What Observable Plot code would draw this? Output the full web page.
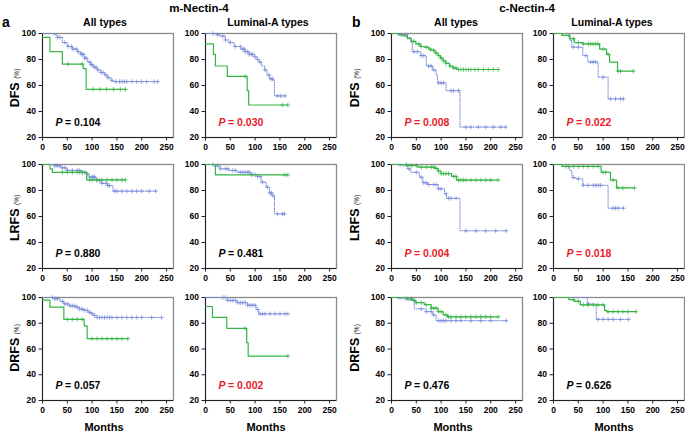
<!DOCTYPE html>
<html><head><meta charset="utf-8">
<script src="https://cdn.jsdelivr.net/npm/d3@7"></script>
<script src="https://cdn.jsdelivr.net/npm/@observablehq/plot@0.6"></script>
<style>
body{margin:0;background:#fff;}
#root{position:relative;width:685px;height:433px;font-family:"Liberation Sans",Arial,sans-serif;overflow:hidden;background:#fff;}
.t{position:absolute;font-weight:bold;white-space:nowrap;color:#000;line-height:1;}
#root svg{position:absolute;overflow:visible;}
</style></head><body><div id="root"></div>
<script>
// ---------- text ----------
const groupTitles = ["m-Nectin-4", "c-Nectin-4"];
const panelLetters = ["a", "b"];
const subtypeTitles = ["All types", "Luminal-A types"];
const endpointLabels = ["DFS", "LRFS", "DRFS"];
const xLabel = "Months";
const xTicks = [0, 50, 100, 150, 200, 250];
const yTicks = [20, 40, 60, 80, 100];
// P values, row by row (DFS, LRFS, DRFS), columns: m-All, m-LumA, c-All, c-LumA
const pValues = ["0.104", "0.030", "0.008", "0.022",
                 "0.880", "0.481", "0.004", "0.018",
                 "0.057", "0.002", "0.476", "0.626"];

// ---------- survival steps [month, %] (last point = end of follow-up) ----------
// m-Nectin-4, All types, DFS
const mAllDFS_green = [[0,97],[15,86],[40,76.5],[82,73],[88,57],[167,57]];
const mAllDFS_greenCens = [52,80,102,116,129,143,157,167];
const mAllDFS_blue = [[0,100],[23,99],[30,97],[40,93],[50,90],[60,88],[70,86],[77,84],[85,81],[91,78],[97,76],[102,74],[110,72],[118,70],[125,68],[132,66],[138,64],[142,63],[232,63]];
const mAllDFS_blueCens = [30,35,45,52,58,62,68,72,78,80,82,85,88,95,98,100,105,108,112,118,122,128,132,140,148,155,160,165,170,180,190,200,210,225,232];
// m-Nectin-4, Luminal-A, DFS
const mLumDFS_green = [[0,92],[16,84],[20,75],[44,67],[84,56],[87,45],[166,45]];
const mLumDFS_greenCens = [80,155,166];
const mLumDFS_blue = [[0,100],[20,99],[30,98],[40,95],[47,93],[58,90],[71,88],[80,86],[88,84],[98,82],[104,80],[108,78],[113,75],[119,72],[124,68],[129,65],[136,64],[139,52],[163,52]];
const mLumDFS_blueCens = [15,25,35,40,50,60,70,75,78,80,85,88,92,95,100,105,110,120,128,132,135,145,152,160];
// c-Nectin-4, All types, DFS
const cAllDFS_green = [[0,100],[15,99],[25,98],[32,96],[40,94],[49,92],[58,90],[66,89.5],[75,88],[80,87],[88,85],[94,83],[99,81],[104,79],[110,77],[117,75],[124,73.5],[131,72.3],[215,72.3]];
const cAllDFS_greenCens = [45,55,60,70,78,85,90,95,100,105,110,118,125,130,135,140,145,150,155,160,168,175,185,195,205,215];
const cAllDFS_blue = [[0,100],[12,99],[32,97],[39,93],[42,86],[59,83],[70,75],[83,72],[90,68],[93,62],[110,56],[138,28],[230,28]];
const cAllDFS_blueCens = [20,30,45,52,60,65,75,80,85,95,100,105,120,125,135,150,160,175,190,205,220,230];
// c-Nectin-4, Luminal-A, DFS
const cLumDFS_green = [[0,100],[17,98.5],[33,96],[42,93],[59,92],[93,88],[107,84],[113,78],[129,71],[161,71]];
const cLumDFS_greenCens = [30,40,50,60,70,75,80,85,90,100,110,130,135,161];
const cLumDFS_blue = [[0,100],[17,98.5],[33,94.6],[37,89.5],[59,83],[69,78],[90,66.4],[110,49.7],[141,49.7]];
const cLumDFS_blueCens = [40,50,65,75,80,85,100,115,125,135,141];
// m-Nectin-4, All types, LRFS
const mAllLRFS_green = [[0,100],[15,96.7],[20,94],[89,88.2],[167,88.2]];
const mAllLRFS_greenCens = [40,50,60,70,75,80,95,100,110,120,130,140,150,160,167];
const mAllLRFS_blue = [[0,100],[23,99],[37,97.4],[50,95.5],[77,94],[88,92.8],[94,90.3],[108,87.7],[118,85.6],[131,83.8],[142,79.5],[230,79.5]];
const mAllLRFS_blueCens = [25,30,35,40,45,50,60,70,75,80,85,90,95,100,102,105,110,115,120,128,132,135,145,150,160,170,180,190,200,215,228];
// m-Nectin-4, Luminal-A, LRFS
const mLumLRFS_green = [[0,100],[20,92],[166,92]];
const mLumLRFS_greenCens = [160,166];
const mLumLRFS_blue = [[0,100],[16,99],[30,96.7],[47,95.4],[64,94],[91,92.3],[105,90.8],[112,86.4],[122,82.5],[129,78],[136,76],[139,62],[159,62]];
const mLumLRFS_blueCens = [15,25,30,40,45,55,60,70,75,80,85,88,92,95,100,105,110,115,125,130,133,136,145,155,159];
// c-Nectin-4, All types, LRFS
const cAllLRFS_green = [[0,100],[32,99.2],[53,98],[87,97],[94,95],[100,93],[121,90.8],[131,88],[215,88]];
const cAllLRFS_greenCens = [30,40,50,60,70,80,85,90,95,100,105,110,115,125,130,135,140,145,150,160,170,180,190,200,215];
const cAllLRFS_blue = [[0,100],[15,99],[32,96.7],[39,94],[56,90.3],[63,86],[73,84.6],[94,81.3],[107,77.4],[111,74],[138,49],[231,49]];
const cAllLRFS_blueCens = [35,50,60,65,70,75,85,90,95,100,110,115,120,130,150,170,190,210,231];
// c-Nectin-4, Luminal-A, LRFS
const cLumLRFS_green = [[0,100],[17,98.5],[96,94],[115,88],[127,82],[163,82]];
const cLumLRFS_greenCens = [25,30,40,50,60,70,80,90,100,105,120,130,140,163];
const cLumLRFS_blue = [[0,100],[17,98.5],[33,95],[37,90],[45,89],[59,84],[110,66.4],[141,66.4]];
const cLumLRFS_blueCens = [40,50,60,70,80,85,90,95,120,125,130,141];
// m-Nectin-4, All types, DRFS
const mAllDRFS_green = [[0,98],[15,92.5],[43,83],[84,78],[90,68],[172,68]];
const mAllDRFS_greenCens = [50,60,70,80,100,110,120,130,140,150,160,172];
const mAllDRFS_blue = [[0,100],[23,99],[35,97],[43,95],[55,93.5],[66,92.5],[75,91],[83,90],[92,88.5],[100,87.3],[105,86],[110,84.5],[240,84.5]];
const mAllDRFS_blueCens = [20,25,30,40,45,50,55,60,65,70,75,80,85,90,95,100,105,110,115,120,125,130,135,140,150,160,170,180,190,200,220,240];
// m-Nectin-4, Luminal-A, DRFS
const mLumDRFS_green = [[0,93],[14,84.5],[43,76],[83,65],[86,54.4],[166,54.4]];
const mLumDRFS_greenCens = [80,166];
const mLumDRFS_blue = [[0,100],[30,100],[44,97.7],[64,96],[85,94],[102,90.7],[107,87.3],[166,87.3]];
const mLumDRFS_blueCens = [35,40,45,50,55,60,65,70,75,80,85,90,95,100,105,110,115,120,130,140,150,160,166];
// c-Nectin-4, All types, DRFS
const cAllDRFS_green = [[0,100],[18,100],[32,99],[42,97.7],[49,96],[66,94.4],[80,91.7],[94,89],[104,86.5],[113,85],[215,85]];
const cAllDRFS_greenCens = [40,50,60,70,80,85,90,95,100,110,115,120,130,140,150,160,170,180,190,200,215];
const cAllDRFS_blue = [[0,100],[14,99],[32,98],[46,91.2],[70,89],[83,86.5],[90,82],[231,82]];
const cAllDRFS_blueCens = [30,45,60,70,80,85,95,100,105,110,120,130,140,160,180,200,231];
// c-Nectin-4, Luminal-A, DRFS
const cLumDRFS_green = [[0,100],[31,98.4],[42,97],[54,94.3],[103,90],[107,89],[166,89]];
const cLumDRFS_greenCens = [40,50,60,70,80,90,100,110,120,130,140,150,166];
const cLumDRFS_blue = [[0,100],[68,95],[86,83],[151,83]];
const cLumDRFS_blueCens = [70,90,100,110,120,135,151];

// ---------- layout ----------
const GREEN = "#35b545";
const BLUE = "#7486d8";
const RED = "#e8202a";
const colLeft = [42, 205, 391, 553];
const rowTop = [33, 164, 297];
const rowH = [104, 104, 103];
const frameW = 131;

const panels = [
  [mAllDFS_green, mAllDFS_greenCens, mAllDFS_blue, mAllDFS_blueCens],
  [mLumDFS_green, mLumDFS_greenCens, mLumDFS_blue, mLumDFS_blueCens],
  [cAllDFS_green, cAllDFS_greenCens, cAllDFS_blue, cAllDFS_blueCens],
  [cLumDFS_green, cLumDFS_greenCens, cLumDFS_blue, cLumDFS_blueCens],
  [mAllLRFS_green, mAllLRFS_greenCens, mAllLRFS_blue, mAllLRFS_blueCens],
  [mLumLRFS_green, mLumLRFS_greenCens, mLumLRFS_blue, mLumLRFS_blueCens],
  [cAllLRFS_green, cAllLRFS_greenCens, cAllLRFS_blue, cAllLRFS_blueCens],
  [cLumLRFS_green, cLumLRFS_greenCens, cLumLRFS_blue, cLumLRFS_blueCens],
  [mAllDRFS_green, mAllDRFS_greenCens, mAllDRFS_blue, mAllDRFS_blueCens],
  [mLumDRFS_green, mLumDRFS_greenCens, mLumDRFS_blue, mLumDRFS_blueCens],
  [cAllDRFS_green, cAllDRFS_greenCens, cAllDRFS_blue, cAllDRFS_blueCens],
  [cLumDRFS_green, cLumDRFS_greenCens, cLumDRFS_blue, cLumDRFS_blueCens]
];

const root = document.getElementById("root");
function addText(html, x, y, css) {
  const d = document.createElement("div");
  d.className = "t";
  d.innerHTML = html;
  d.style.left = x + "px";
  d.style.top = y + "px";
  Object.assign(d.style, css || {});
  root.appendChild(d);
  return d;
}
function survAt(curve, t) {
  let s = curve[0][1];
  for (const [tt, ss] of curve) if (tt <= t) s = ss;
  return s;
}

const ML = 28, MT = 4, MR = 4, MB = 18;
panels.forEach((p, i) => {
  const r = Math.floor(i / 4), c = i % 4;
  const [g, gc, b, bc] = p;
  const pv = pValues[i];
  const pColor = parseFloat(pv) < 0.05 ? RED : "#000";
  const H = rowH[r];
  const chart = Plot.plot({
    width: ML + frameW + MR, height: MT + H + MB,
    marginLeft: ML, marginRight: MR, marginTop: MT, marginBottom: MB,
    style: {fontFamily: "Liberation Sans, Arial, sans-serif", fontSize: "8.5px", fontWeight: "bold", background: "transparent", color: "#000"},
    x: {domain: [0, 264], label: null},
    y: {domain: [20, 100], label: null},
    marks: [
      Plot.frame({stroke: "#8a8a8a", strokeWidth: 1.3}),
      Plot.axisX({ticks: xTicks, tickSize: 3.5, tickPadding: 2.5, tickFormat: d => d, stroke: "#222"}),
      Plot.axisY({ticks: yTicks, tickSize: 3.5, tickPadding: 3, tickFormat: d => d, stroke: "#222"}),
      Plot.ruleX([0], {stroke: "#222", strokeWidth: 1}),
      Plot.ruleY([20], {stroke: "#222", strokeWidth: 1}),
      Plot.line(b, {x: d => d[0], y: d => d[1], curve: "step-after", stroke: BLUE, strokeWidth: 1, strokeDasharray: "1,1.4"}),
      Plot.dot(bc, {x: d => d, y: d => survAt(b, d), symbol: "plus", r: 1.6, stroke: BLUE, strokeWidth: 0.7}),
      Plot.line(g, {x: d => d[0], y: d => d[1], curve: "step-after", stroke: GREEN, strokeWidth: 1.2}),
      Plot.dot(gc, {x: d => d, y: d => survAt(g, d), symbol: "plus", r: 1.6, stroke: GREEN, strokeWidth: 0.7}),
      Plot.text(["P"], {frameAnchor: "bottom-left", dx: 13, dy: -15, text: d => d, textAnchor: "start", lineAnchor: "middle", fontSize: 10.5, fontWeight: "bold", fontStyle: "italic", fill: pColor}),
      Plot.text([pv], {frameAnchor: "bottom-left", dx: 22.5, dy: -15, text: d => "= " + d, textAnchor: "start", lineAnchor: "middle", fontSize: 10.5, fontWeight: "bold", fill: pColor})
    ]
  });
  chart.style.left = (colLeft[c] - ML) + "px";
  chart.style.top = (rowTop[r] - MT) + "px";
  root.appendChild(chart);
});

// group titles and letters
addText(groupTitles[0], 199, 9, {fontSize: "11.5px", transform: "translate(-50%,-50%)"});
addText(groupTitles[1], 527, 9, {fontSize: "11.5px", transform: "translate(-50%,-50%)"});
addText(panelLetters[0], 2, 15, {fontSize: "14px"});
addText(panelLetters[1], 352, 15, {fontSize: "14px"});
// subtype titles
const titleCx = [105, 268, 456, 612];
titleCx.forEach((cx, c) => addText(subtypeTitles[c % 2], cx, 22, {fontSize: "10.5px", transform: "translate(-50%,-50%)"}));
// y labels
const ylabCx = [15, 355];
const ylabCy = [88, 218, 348];
ylabCx.forEach(cx => ylabCy.forEach((cy, r) => {
  addText(endpointLabels[r] + ' <span style="font-size:6.5px;font-weight:normal">(%)</span>', cx, cy,
    {fontSize: "12.5px", transform: "translate(-50%,-50%) rotate(-90deg)"});
}));
// x labels
const xlabCx = [104, 266, 453, 614];
xlabCx.forEach(cx => addText(xLabel, cx, 427, {fontSize: "11px", transform: "translate(-50%,-50%)"}));
</script></body></html>
